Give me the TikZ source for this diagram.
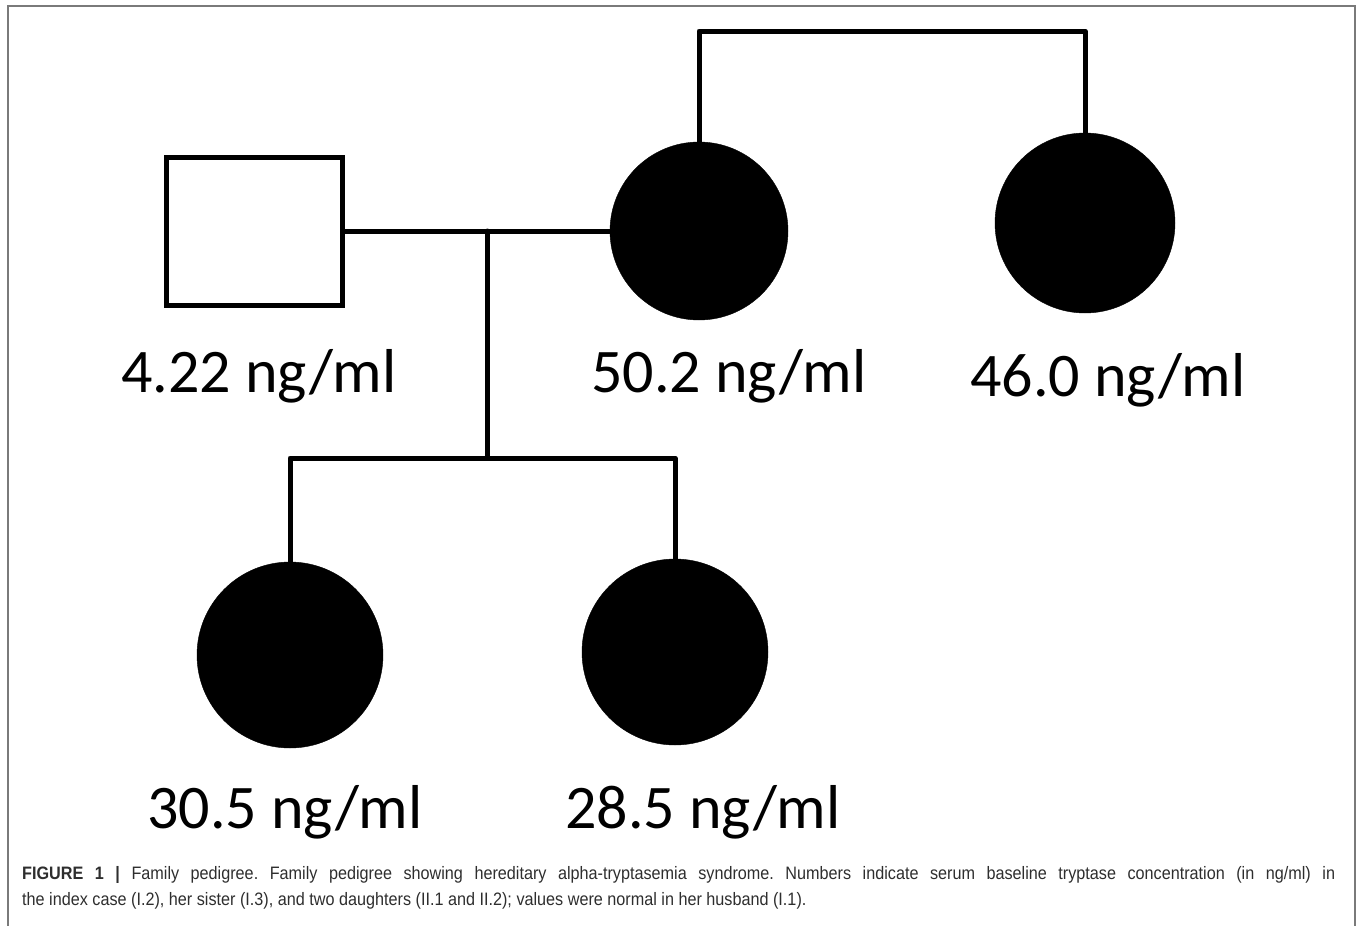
\documentclass[tikz,border=0pt]{standalone}
\usepackage{fontspec}
\setmainfont{Carlito}
\newfontfamily\capfont[FakeStretch=0.9]{Liberation Sans}
\definecolor{framegray}{HTML}{7A7A7A}
\definecolor{captext}{HTML}{2E2E2E}
\frenchspacing
\begin{document}
\begin{tikzpicture}[x=1pt,y=-1pt,
  pline/.style={line width=5pt,line cap=round,line join=round},
  male/.style={draw,line width=5pt,rectangle,minimum width=176pt,minimum height=148pt,inner sep=0pt},
  affected/.style={circle,fill=black,draw=black,inner sep=0pt},
  val/.style={anchor=base,font=\fontsize{62}{70}\selectfont,inner sep=0pt},
  captionline/.style={anchor=base west,inner sep=0pt,text=captext,font=\capfont\fontsize{18}{22}\selectfont}]
\useasboundingbox (0,0) rectangle (1358,926);
\draw[framegray,line width=1.5pt] (8,926) -- (8,6) -- (1355,6) -- (1355,926);
% individuals
\node[male] (i1) at (254,231) {};
\node[affected,minimum size=178pt] (i2) at (699,231) {};
\node[affected,minimum size=180pt] (i3) at (1085,223) {};
\node[affected,minimum size=186pt] (ii1) at (290,655) {};
\node[affected,minimum size=186pt] (ii2) at (675,652) {};
% connectors
\coordinate (t1) at (699,31);
\coordinate (t2) at (1085,31);
\draw[pline] (i2.north) -- (t1) -- (t2) -- (i3.north);
\draw[pline] (i1.east) -- (i2.west);
\coordinate (m) at (487,231);
\coordinate (d) at (487,458);
\coordinate (s1) at (290,458);
\coordinate (s2) at (675,458);
\draw[pline] (m) -- (d);
\draw[pline] (ii1.north) -- (s1) -- (s2) -- (ii2.north);
% labels
\node[val] (l1) at (259,392) {4.22 ng/ml};
\node[val] (l2) at (729,392) {50.2 ng/ml};
\node[val] (l3) at (1108,396) {46.0 ng/ml};
\node[val] (l4) at (285,828) {30.5 ng/ml};
\node[val] (l5) at (703,828) {28.5 ng/ml};
% caption
\node[captionline] (c1) at (22,879) {\makebox[1313pt][s]{\textbf{FIGURE 1 |} Family pedigree. Family pedigree showing hereditary alpha-tryptasemia syndrome. Numbers indicate serum baseline tryptase concentration (in ng/ml) in}};
\node[captionline] (c2) at (22,905) {the index case (I.2), her sister (I.3), and two daughters (II.1 and II.2); values were normal in her husband (I.1).};
\end{tikzpicture}
\end{document}
